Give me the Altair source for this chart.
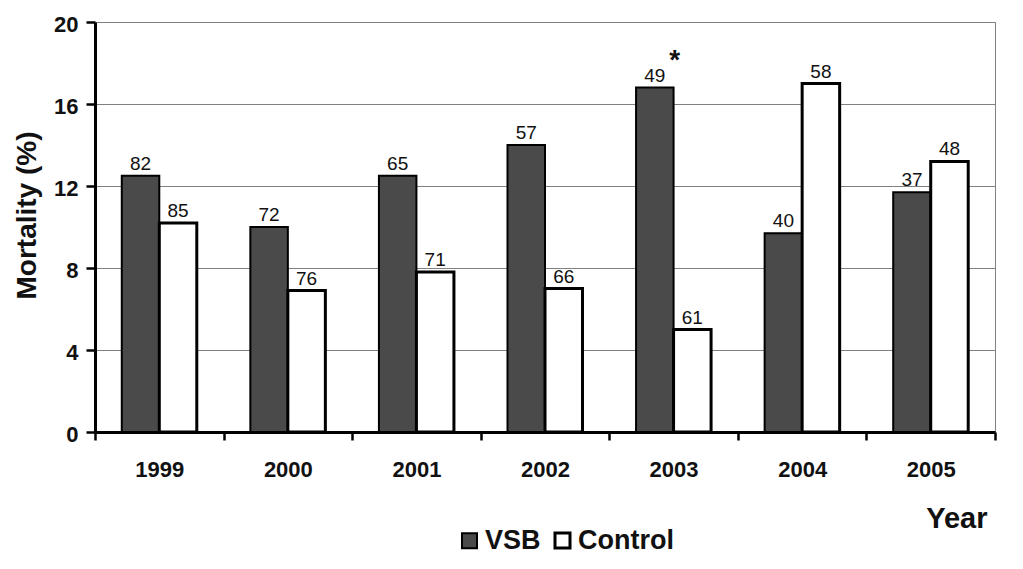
import altair as alt
import pandas as pd

years = ["1999", "2000", "2001", "2002", "2003", "2004", "2005"]
vsb_values = [12.5, 10.0, 12.5, 14.0, 16.8, 9.7, 11.7]
control_values = [10.2, 6.9, 7.8, 7.0, 5.0, 17.0, 13.2]
vsb_n = [82, 72, 65, 57, 49, 40, 37]
control_n = [85, 76, 71, 66, 61, 58, 48]
vsb_sig = ["", "", "", "", "*", "", ""]
series = ["VSB", "Control"]
y_ticks = [0, 4, 8, 12, 16, 20]

rows = []
for i, yr in enumerate(years):
    rows.append({"year": yr, "series": "VSB", "value": vsb_values[i], "n": vsb_n[i], "sig": vsb_sig[i]})
    rows.append({"year": yr, "series": "Control", "value": control_values[i], "n": control_n[i], "sig": ""})
df = pd.DataFrame(rows)

FONT = "Liberation Sans"

x_enc = alt.X(
    "year:N",
    sort=years,
    scale=alt.Scale(paddingInner=0, paddingOuter=0),
    axis=alt.Axis(
        title="Year",
        titleFontSize=29,
        titleFontWeight="bold",
        titleAlign="right",
        titleBaseline="alphabetic",
        titleX=892,
        titleY=95,
        titleAngle=0,
        labelFontSize=22,
        labelFontWeight="bold",
        labelAngle=0,
        labelPadding=19,
        tickBand="extent",
        tickSize=8,
        tickWidth=2.5,
        tickColor="black",
        domainColor="black",
        domainWidth=3,
        grid=False,
        labelColor="#111111",
        titleColor="#111111",
    ),
)
xoff_enc = alt.XOffset(
    "series:N",
    sort=series,
    scale=alt.Scale(domain=series, paddingInner=0, paddingOuter=0.714),
)
y_enc = alt.Y(
    "value:Q",
    scale=alt.Scale(domain=[0, 20], nice=False),
    axis=alt.Axis(
        title="Mortality (%)",
        titleFontSize=28,
        titleFontWeight="bold",
        titleX=-68,
        titleY=193,
        titleAngle=-90,
        titleAlign="center",
        titleBaseline="middle",
        values=y_ticks,
        labelFontSize=22,
        labelFontWeight="bold",
        labelPadding=8,
        labelOffset=2,
        tickSize=9,
        tickWidth=2.5,
        tickColor="black",
        domainColor="black",
        domainWidth=3,
        grid=True,
        gridColor="#808080",
        gridWidth=1,
        labelColor="#111111",
        titleColor="#111111",
    ),
)

bars = alt.Chart(df).mark_bar(stroke="black").encode(
    x=x_enc,
    xOffset=xoff_enc,
    y=y_enc,
    fill=alt.Fill(
        "series:N",
        sort=series,
        scale=alt.Scale(domain=series, range=["#4a4a4a", "#ffffff"]),
        legend=alt.Legend(
            title=None,
            orient="none",
            direction="horizontal",
            legendX=361,
            legendY=505,
            symbolType="square",
            symbolSize=225,
            symbolStrokeColor="black",
            symbolStrokeWidth=2,
            symbolOpacity=1,
            symbolFillColor="white",
            labelFontSize=27,
            labelFontWeight="bold",
            labelOffset=2,
            columnPadding=8,
            labelColor="#111111",
            padding=0,
        ),
    ),
    strokeWidth=alt.StrokeWidth(
        "series:N",
        scale=alt.Scale(domain=series, range=[2, 3]),
        legend=None,
    ),
)

labels = alt.Chart(df).mark_text(
    baseline="alphabetic", dy=-6, fontSize=19, font=FONT, color="#111111"
).encode(
    x=alt.X("year:N", sort=years),
    xOffset=alt.XOffset("series:N", sort=series),
    y="value:Q",
    text="n:Q",
)

stars = alt.Chart(df).mark_text(
    baseline="alphabetic", dx=20, dy=-19, fontSize=28, fontWeight="bold", font=FONT, color="#111111"
).encode(
    x=alt.X("year:N", sort=years),
    xOffset=alt.XOffset("series:N", sort=series),
    y="value:Q",
    text="sig:N",
)

chart = (
    alt.layer(bars, labels, stars)
    .properties(
        width=900,
        height=410,
        autosize=alt.AutoSizeParams(type="none"),
        padding={"left": 87, "top": 14, "right": 20, "bottom": 130},
    )
    .configure(font=FONT)
    .configure_view(stroke="#808080", strokeWidth=1)
)

chart.save("out.html", embed_options={"renderer": "svg", "actions": False})
